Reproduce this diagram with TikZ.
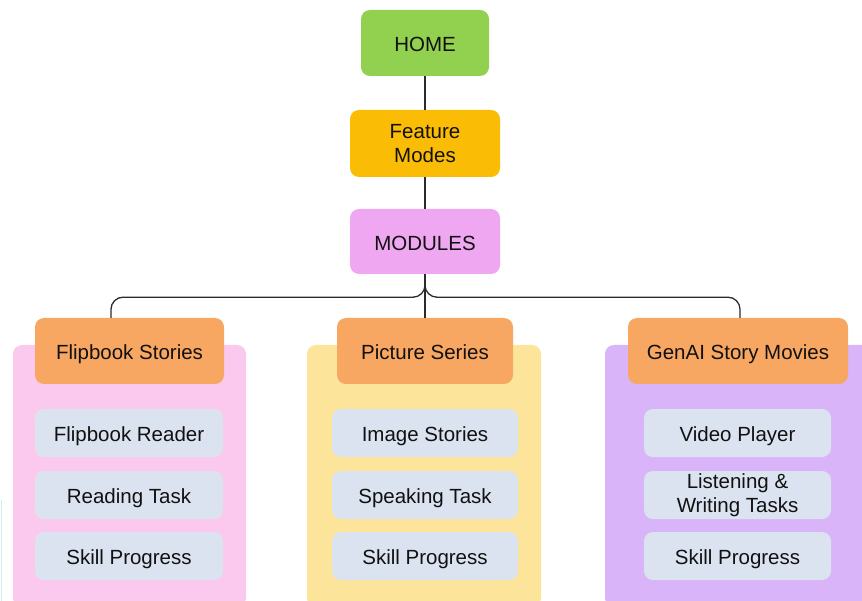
\documentclass[tikz,border=0pt]{standalone}
\usepackage{fontspec}
\setmainfont{Liberation Sans}
\definecolor{ink}{HTML}{111111}
\definecolor{wirec}{HTML}{2B2B2B}
\definecolor{homeg}{HTML}{92D050}
\definecolor{featy}{HTML}{FBBC05}
\definecolor{modp}{HTML}{EFA7F1}
\definecolor{modor}{HTML}{F8A763}
\definecolor{bgpink}{HTML}{FCC9EE}
\definecolor{bgyel}{HTML}{FCE59A}
\definecolor{bgpur}{HTML}{D9B4F9}
\definecolor{subb}{HTML}{DCE3F0}
\definecolor{edgec}{HTML}{D2EFF0}
\begin{document}
\begin{tikzpicture}[x=1pt,y=-1pt,
  box/.style={rounded corners=9pt, inner sep=0pt, text=ink, align=center,
    font=\fontsize{20.5}{24.5}\selectfont},
  oneline/.style={text height=17.6pt, text depth=0pt},
  panel/.style={rounded corners=9pt, inner sep=0pt},
  modbox/.style={box, oneline, fill=modor, minimum width=#1, minimum height=66pt},
  subbox/.style={box, fill=subb, minimum width=#1, minimum height=48pt},
  wire/.style={draw=wirec, line width=1.3pt}]
\useasboundingbox (0,0) rectangle (862,601);
\clip (0,0) rectangle (862,601);

% edge of a neighbouring element at the far left
\draw[edgec, line width=1.6pt] (1.5,500) -- (1.5,603);

% column backgrounds
\node[panel, fill=bgpink, minimum width=233pt, minimum height=262pt] (bgl) at (129.5,476) {};
\node[panel, fill=bgyel,  minimum width=234pt, minimum height=262pt] (bgm) at (424,476) {};
\node[panel, fill=bgpur,  minimum width=275pt, minimum height=262pt] (bgr) at (742.5,476) {};

% top chain
\node[box, oneline, fill=homeg, minimum width=128pt, minimum height=66pt] (home) at (425,43) {HOME};
\node[box, fill=featy, minimum width=150pt, minimum height=67pt] (feat) at (425,143.5) {Feature\\Modes};
\node[box, oneline, fill=modp,  minimum width=150pt, minimum height=65pt] (mods) at (425,241.5) {MODULES};

% module headers
\node[modbox=189pt] (fs) at (129.5,351) {Flipbook Stories};
\node[modbox=176pt] (ps) at (425,351) {Picture Series};
\node[modbox=220pt] (gs) at (738,351) {GenAI Story Movies};

% module contents
\node[subbox=188pt, oneline] (fs1) at (129,433) {Flipbook Reader};
\node[subbox=188pt, oneline] (fs2) at (129,495) {Reading Task};
\node[subbox=188pt, oneline] (fs3) at (129,556) {Skill Progress};

\node[subbox=186pt, oneline] (ps1) at (425,433) {Image Stories};
\node[subbox=186pt, oneline] (ps2) at (425,495) {Speaking Task};
\node[subbox=186pt, oneline] (ps3) at (425,556) {Skill Progress};

\node[subbox=187pt, oneline] (gs1) at (737.5,433) {Video Player};
\node[subbox=187pt] (gs2) at (737.5,495) {Listening \&\\Writing Tasks};
\node[subbox=187pt, oneline] (gs3) at (737.5,556) {Skill Progress};

% connectors
\draw[wire] (home.south) -- (feat.north);
\draw[wire] (feat.south) -- (mods.north);
\draw[wire] (mods.south) -- (ps.north);
\draw[wire, rounded corners=12pt] (mods.south) -- ++(0,23) -| ([xshift=-18.5pt]fs.north);
\draw[wire, rounded corners=12pt] (mods.south) -- ++(0,23) -| ([xshift=2pt]gs.north);
\end{tikzpicture}
\end{document}
